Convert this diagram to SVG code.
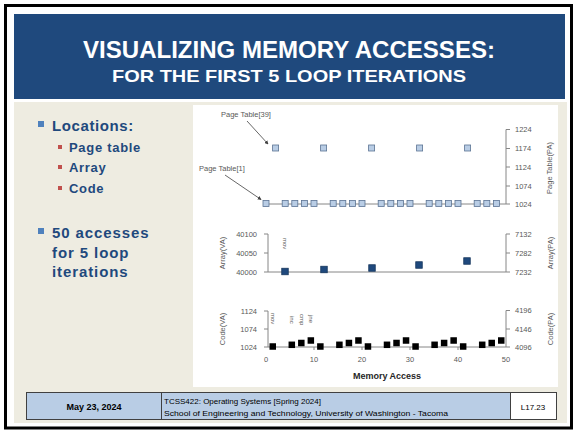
<svg xmlns="http://www.w3.org/2000/svg" width="574" height="431" viewBox="0 0 574 431">
<style>
.ax{stroke:#868686;stroke-width:1;fill:none}
.tk{font-family:"Liberation Sans",Arial,sans-serif;font-size:7.5px;fill:#595959}
.tl{font-family:"Liberation Sans",Arial,sans-serif;font-size:7.5px;fill:#595959}
.pt{fill:#B9CDE5;stroke:#5B7393;stroke-width:0.8}
.ar{fill:#1F497D;stroke:#16365C;stroke-width:0.8}
.cd{fill:#000}
.bl{font-family:"Liberation Sans",Arial,sans-serif;font-weight:bold;fill:#1F497D}
.an{font-family:"Liberation Sans",Arial,sans-serif;font-size:6px;fill:#595959}
.ft{font-family:"Liberation Sans",Arial,sans-serif;fill:#000}
.cell{fill:#B9CDE5;stroke:#404040;stroke-width:1}
.con{stroke:#404040;stroke-width:0.8;fill:none}
</style>
<defs>
<marker id="ah" viewBox="0 0 6 6" refX="5" refY="3" markerWidth="5" markerHeight="5" orient="auto"><path d="M0,0 L6,3 L0,6 z" fill="#404040"/></marker>
</defs>
<rect width="574" height="431" fill="#fff"/>
<rect x="5.5" y="5.5" width="566" height="422.5" fill="none" stroke="#000" stroke-width="3"/>
<g id="title">
<rect x="14" y="14" width="551" height="85" fill="#1F497D"/>
<text x="289" y="58" text-anchor="middle" font-family="Liberation Sans, Arial, sans-serif" font-weight="bold" font-size="24" fill="#fff" textLength="412" lengthAdjust="spacingAndGlyphs">VISUALIZING MEMORY ACCESSES:</text>
<text x="289" y="82" text-anchor="middle" font-family="Liberation Sans, Arial, sans-serif" font-weight="bold" font-size="17" fill="#fff" textLength="354" lengthAdjust="spacingAndGlyphs">FOR THE FIRST 5 LOOP ITERATIONS</text>
</g>
<rect x="14" y="102" width="553" height="321" fill="#EEECE1"/>
<rect x="193" y="105" width="365" height="282" fill="#fff"/>
<g id="bullets">
<rect x="38" y="121" width="6" height="6" fill="#4F81BD"/>
<text class="bl" x="52" y="131" font-size="15" letter-spacing="0.6">Locations:</text>
<rect x="58" y="145" width="4" height="4" fill="#C0504D"/>
<text class="bl" x="69" y="152" font-size="13" letter-spacing="0.7">Page table</text>
<rect x="58" y="165" width="4" height="4" fill="#C0504D"/>
<text class="bl" x="69" y="172" font-size="13" letter-spacing="0.7">Array</text>
<rect x="58" y="186" width="4" height="4" fill="#C0504D"/>
<text class="bl" x="69" y="193" font-size="13" letter-spacing="0.7">Code</text>
<rect x="38" y="228" width="6" height="6" fill="#4F81BD"/>
<text class="bl" x="52" y="238" font-size="15" letter-spacing="0.9">50 accesses</text>
<text class="bl" x="52" y="258" font-size="15" letter-spacing="0.9">for 5 loop</text>
<text class="bl" x="52" y="277" font-size="15" letter-spacing="0.9">iterations</text>
</g>
<g id="chart-pagetable">
<path class="ax" d="M266,204H506M506,129.5V204M506,129.5h4M506,148.5h4M506,167h4M506,186h4M506,204h4"/>
<text class="tk" x="515" y="132">1224</text>
<text class="tk" x="515" y="151">1174</text>
<text class="tk" x="515" y="169.5">1124</text>
<text class="tk" x="515" y="188.5">1074</text>
<text class="tk" x="515" y="206.5">1024</text>
<text class="tl" transform="translate(551.5,168) rotate(-90)" text-anchor="middle">Page Table(PA)</text>
<text class="tl" x="221" y="117">Page Table[39]</text>
<text class="tl" x="199" y="171">Page Table[1]</text>
<g class="pt">
<rect x="263" y="200.5" width="6" height="6"/><rect x="282.2" y="200.5" width="6" height="6"/><rect x="291.8" y="200.5" width="6" height="6"/><rect x="301.4" y="200.5" width="6" height="6"/><rect x="311" y="200.5" width="6" height="6"/>
<rect x="330.2" y="200.5" width="6" height="6"/><rect x="339.8" y="200.5" width="6" height="6"/><rect x="349.4" y="200.5" width="6" height="6"/><rect x="359" y="200.5" width="6" height="6"/>
<rect x="378.2" y="200.5" width="6" height="6"/><rect x="387.8" y="200.5" width="6" height="6"/><rect x="397.4" y="200.5" width="6" height="6"/><rect x="407" y="200.5" width="6" height="6"/>
<rect x="426.2" y="200.5" width="6" height="6"/><rect x="435.8" y="200.5" width="6" height="6"/><rect x="445.4" y="200.5" width="6" height="6"/><rect x="455" y="200.5" width="6" height="6"/>
<rect x="474.2" y="200.5" width="6" height="6"/><rect x="483.8" y="200.5" width="6" height="6"/><rect x="493.4" y="200.5" width="6" height="6"/>
<rect x="272.6" y="145" width="6" height="6"/><rect x="320.6" y="145" width="6" height="6"/><rect x="368.6" y="145" width="6" height="6"/><rect x="416.6" y="145" width="6" height="6"/><rect x="464.6" y="145" width="6" height="6"/>
</g>
</g>
<g id="chart-array">
<path class="ax" d="M268,272H506M268,234V272M264,234h4M264,253h4M264,272h4M506,234V272M506,234h4M506,253h4M506,272h4"/>
<text class="tk" x="257" y="237" text-anchor="end">40100</text>
<text class="tk" x="257" y="255.5" text-anchor="end">40050</text>
<text class="tk" x="257" y="274.5" text-anchor="end">40000</text>
<text class="tk" x="515" y="237">7132</text>
<text class="tk" x="515" y="255.5">7282</text>
<text class="tk" x="515" y="274.5">7232</text>
<text class="tl" transform="translate(224.5,253) rotate(-90)" text-anchor="middle">Array(VA)</text>
<text class="tl" transform="translate(552.5,253) rotate(-90)" text-anchor="middle">Array(PA)</text>
<text class="an" transform="translate(283,238) rotate(90)">mov</text>
<g class="ar">
<rect x="281.75" y="268.25" width="6.5" height="6.5"/><rect x="320.75" y="266.25" width="6.5" height="6.5"/><rect x="368.75" y="264.75" width="6.5" height="6.5"/><rect x="415.75" y="261.75" width="6.5" height="6.5"/><rect x="463.75" y="257.75" width="6.5" height="6.5"/>
</g>
</g>
<g id="chart-code">
<path class="ax" d="M268,347H506M268,311V347M264,311h4M264,329h4M264,347h4M506,310.5V347M506,310.5h4M506,329h4M506,347h4M314,347v3M362,347v3M410,347v3M458,347v3"/>
<text class="tk" x="257" y="313.5" text-anchor="end">1124</text>
<text class="tk" x="257" y="331.5" text-anchor="end">1074</text>
<text class="tk" x="257" y="349.5" text-anchor="end">1024</text>
<text class="tk" x="515" y="313">4196</text>
<text class="tk" x="515" y="331.5">4146</text>
<text class="tk" x="515" y="350">4096</text>
<text class="tl" transform="translate(224.5,329) rotate(-90)" text-anchor="middle">Code(VA)</text>
<text class="tl" transform="translate(552.5,329) rotate(-90)" text-anchor="middle">Code(PA)</text>
<text class="tk" x="266" y="362" text-anchor="middle">0</text>
<text class="tk" x="314" y="362" text-anchor="middle">10</text>
<text class="tk" x="362" y="362" text-anchor="middle">20</text>
<text class="tk" x="410" y="362" text-anchor="middle">30</text>
<text class="tk" x="458" y="362" text-anchor="middle">40</text>
<text class="tk" x="506" y="362" text-anchor="middle">50</text>
<text x="387" y="379" text-anchor="middle" font-family="Liberation Sans, Arial, sans-serif" font-weight="bold" font-size="9" fill="#262626">Memory Access</text>
<text class="an" transform="translate(271,313) rotate(90)">mov</text>
<text class="an" transform="translate(290,316) rotate(90)">inc</text>
<text class="an" transform="translate(299.5,314) rotate(90)">cmp</text>
<text class="an" transform="translate(309,315) rotate(90)">jne</text>
<g class="cd">
<rect x="269.5" y="343.25" width="6.5" height="6.5"/><rect x="288.55" y="341.55" width="6.5" height="6.5"/><rect x="298.07" y="339.75" width="6.5" height="6.5"/><rect x="307.59" y="337.25" width="6.5" height="6.5"/>
<rect x="317.11" y="343.25" width="6.5" height="6.5"/><rect x="336.15" y="341.55" width="6.5" height="6.5"/><rect x="345.67" y="339.75" width="6.5" height="6.5"/><rect x="355.19" y="337.25" width="6.5" height="6.5"/>
<rect x="364.71" y="343.25" width="6.5" height="6.5"/><rect x="383.75" y="341.55" width="6.5" height="6.5"/><rect x="393.27" y="339.75" width="6.5" height="6.5"/><rect x="402.79" y="337.25" width="6.5" height="6.5"/>
<rect x="412.31" y="343.25" width="6.5" height="6.5"/><rect x="431.35" y="341.55" width="6.5" height="6.5"/><rect x="440.87" y="339.75" width="6.5" height="6.5"/><rect x="450.39" y="337.25" width="6.5" height="6.5"/>
<rect x="459.91" y="343.25" width="6.5" height="6.5"/><rect x="478.95" y="341.55" width="6.5" height="6.5"/><rect x="488.47" y="339.75" width="6.5" height="6.5"/><rect x="498" y="337.25" width="6.5" height="6.5"/>
</g>
</g>
<g id="connectors">
<line class="con" x1="247" y1="121" x2="268" y2="144" marker-end="url(#ah)"/>
<line class="con" x1="225" y1="175" x2="261" y2="199.5" marker-end="url(#ah)"/>
</g>
<g id="footer">
<rect class="cell" x="26.5" y="392.5" width="135" height="27"/>
<rect class="cell" x="161.5" y="392.5" width="349" height="27"/>
<rect x="510.5" y="392.5" width="46" height="27" fill="#fff" stroke="#404040" stroke-width="1"/>
<text class="ft" x="94" y="410" text-anchor="middle" font-size="9" font-weight="bold">May 23, 2024</text>
<text class="ft" x="164" y="404" font-size="8">TCSS422: Operating Systems [Spring 2024]</text>
<text class="ft" x="164" y="415.5" font-size="8" textLength="284" lengthAdjust="spacingAndGlyphs">School of Engineering and Technology, University of Washington - Tacoma</text>
<text class="ft" x="533" y="410" text-anchor="middle" font-size="8">L17.23</text>
</g>
</svg>
